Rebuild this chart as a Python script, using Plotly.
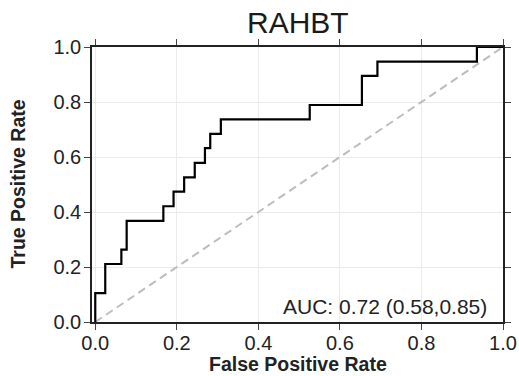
import plotly.graph_objects as go

# ROC step vertices
fpr = [0.0, 0.0, 0.0245, 0.064, 0.077, 0.167, 0.192, 0.218, 0.244, 0.269, 0.282, 0.308, 0.526, 0.654, 0.692, 0.936, 1.0]
tpr = [0.0, 0.105, 0.211, 0.263, 0.368, 0.421, 0.474, 0.526, 0.579, 0.632, 0.684, 0.737, 0.789, 0.895, 0.947, 1.0, 1.0]
diag_x = [0.0, 1.0]
diag_y = [0.0, 1.0]
tick_vals = [0.0, 0.2, 0.4, 0.6, 0.8, 1.0]
tick_text = ["0.0", "0.2", "0.4", "0.6", "0.8", "1.0"]
title_text = "RAHBT"
x_title = "False Positive Rate"
y_title = "True Positive Rate"
auc_text = "AUC: 0.72 (0.58,0.85)"

FONT = "Liberation Sans, Arial, sans-serif"

fig = go.Figure()
fig.add_trace(go.Scatter(x=diag_x, y=diag_y, mode="lines",
                         line=dict(color="#bdbdbd", width=2, dash="8px,5px"),
                         hoverinfo="skip", showlegend=False))
fig.add_trace(go.Scatter(x=fpr, y=tpr, mode="lines", line_shape="hv",
                         line=dict(color="#000000", width=2.2),
                         showlegend=False))

axis_common = dict(
    tickvals=tick_vals, ticktext=tick_text,
    showgrid=True, gridcolor="#ebebeb", gridwidth=1,
    showline=True, linecolor="#222222", linewidth=1.5, mirror="ticks",
    ticks="outside", ticklen=6, tickwidth=1.2, tickcolor="#444444",
    tickfont=dict(family=FONT, size=20, color="#222222"),
    zeroline=False, automargin=False,
)

fig.update_layout(
    width=519, height=376,
    margin=dict(l=92, r=16, t=47, b=54),
    paper_bgcolor="white", plot_bgcolor="white",
    xaxis=dict(range=[-0.008, 1.0], ticklabelstandoff=-4, **axis_common),
    yaxis=dict(range=[0.0, 1.0], ticklabelstandoff=-1, **axis_common),
    annotations=[
        dict(text=title_text, xref="paper", yref="paper", x=0.5, y=1.0,
             xanchor="center", yanchor="bottom", yshift=6, showarrow=False,
             font=dict(family=FONT, size=30, color="#1a1a1a")),
        dict(text="<b>" + x_title + "</b>", xref="paper", yref="paper",
             x=0.5, y=0.0, xanchor="center", yanchor="middle", yshift=-42,
             borderpad=0, showarrow=False,
             font=dict(family=FONT, size=19.5, color="#222222")),
        dict(text="<b>" + y_title + "</b>", xref="paper", yref="paper",
             x=0.0, y=0.5, xanchor="center", yanchor="middle", xshift=-75,
             textangle=-90, showarrow=False,
             font=dict(family=FONT, size=19.5, color="#222222")),
        dict(text=auc_text, xref="x", yref="y", x=0.966, y=0.0,
             xanchor="right", yanchor="bottom", yshift=2, showarrow=False,
             font=dict(family=FONT, size=21, color="#222222")),
    ],
)

fig.write_html("out.html")
